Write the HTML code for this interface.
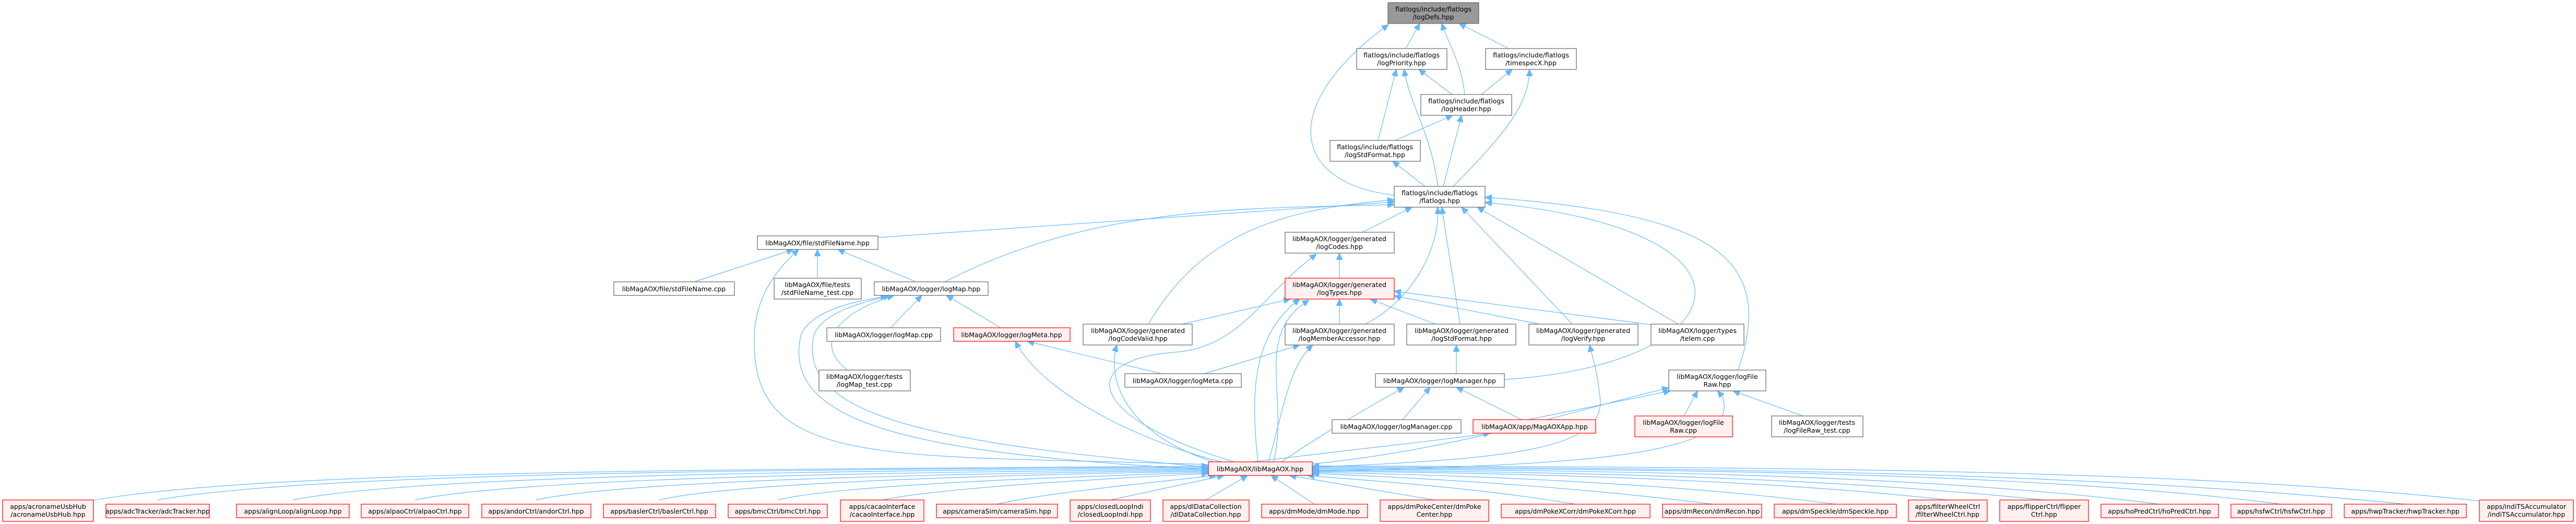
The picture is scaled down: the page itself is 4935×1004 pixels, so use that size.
<!DOCTYPE html>
<html><head><meta charset="utf-8">
<style>
html,body{margin:0;padding:0;background:#fff;}
svg{display:block;}
text{font-family:"DejaVu Sans","Liberation Sans",sans-serif;font-size:12.5px;fill:#000;text-anchor:middle;}
.n{fill:#fff;stroke:#666;stroke-width:1.2;}
.r{fill:#fff0f0;stroke:#f00;stroke-width:1.2;}
.g{fill:#999;stroke:#666;stroke-width:1.2;}
path{fill:none;stroke:#63b8ff;stroke-width:1.2;}
</style></head><body>
<svg width="4935" height="1004" viewBox="0 0 4935 1004" xmlns="http://www.w3.org/2000/svg">
<defs>
<marker id="a" markerUnits="userSpaceOnUse" markerWidth="14" markerHeight="12" refX="13" refY="6" orient="auto">
<path d="M0,0 L13,6 L0,12 Z" style="fill:#63b8ff;stroke:#63b8ff;stroke-width:1"/>
</marker>
</defs>
<g marker-end="url(#a)">
<!-- top cluster -->
<path d="M2693,93 L2720,45"/>
<path d="M2890,93 L2795,45"/>
<path d="M2806,181 C2800,120 2775,85 2762,45"/>
<path d="M2671,374 C2470,350 2450,200 2660,47"/>
<path d="M2782,181 L2718,133"/>
<path d="M2640,269 L2675,133"/>
<path d="M2755,357 C2740,250 2700,200 2690,133"/>
<path d="M2838,181 L2897,133"/>
<path d="M2784,357 C2880,260 2930,200 2930,133"/>
<path d="M2673,269 L2783,221"/>
<path d="M2765,357 L2800,221"/>
<path d="M2730,357 L2668,309"/>
<!-- into flatlogs -->
<path d="M1682,455 L2671,387"/>
<path d="M1810,540 C2100,390 2400,400 2671,392"/>
<path d="M2610,445 L2705,397"/>
<path d="M2200,621 C2300,450 2450,400 2671,383"/>
<path d="M2615,621 C2700,580 2760,480 2754,397"/>
<path d="M2797,621 L2762,397"/>
<path d="M3012,621 L2800,397"/>
<path d="M3215,621 L2830,397"/>
<path d="M3330,709 C3400,500 3300,410 2845,378"/>
<path d="M2882,727 C3330,700 3420,440 2845,388"/>
<!-- stdFileName.hpp -->
<path d="M1330,540 L1520,478"/>
<path d="M1566,533 L1566,478"/>
<path d="M1755,540 L1605,478"/>
<path d="M2315,890 C1700,870 1440,900 1445,650 C1445,560 1500,505 1530,478"/>
<!-- logMap.hpp -->
<path d="M1706,628 L1766,566"/>
<path d="M1917,628 L1813,566"/>
<path d="M1623,709 C1560,660 1600,600 1713,566"/>
<path d="M2315,895 C1800,850 1520,800 1560,640 C1580,595 1660,578 1706,566"/>
<path d="M2315,900 C1780,870 1490,820 1535,640 C1560,590 1650,575 1700,568"/>
<!-- logCodes / logTypes -->
<path d="M2566,533 L2566,485"/>
<path d="M2365,885 C2080,800 2060,690 2250,675 C2380,665 2420,560 2522,487"/>
<path d="M2265,621 L2472,573"/>
<path d="M2410,885 C2395,750 2400,640 2490,573"/>
<path d="M2440,885 C2470,760 2400,640 2508,575"/>
<path d="M2566,621 L2566,573"/>
<path d="M2750,621 L2625,573"/>
<path d="M2950,621 L2671,567"/>
<path d="M3170,623 L2671,558"/>
<!-- logMeta / logCodeValid / logMemberAccessor -->
<path d="M2225,716 L1968,654"/>
<path d="M2340,885 C2200,850 2000,760 1945,654"/>
<path d="M2325,885 C2150,830 2120,720 2140,661"/>
<path d="M2307,716 L2490,661"/>
<path d="M2430,885 C2460,780 2470,700 2515,661"/>
<path d="M2790,716 L2790,661"/>
<path d="M2514,895 C2900,880 3080,860 3065,760 C3060,710 3050,680 3045,661"/>
<!-- logManager / logFileRaw -->
<path d="M2687,804 L2740,742"/>
<path d="M2915,804 L2790,742"/>
<path d="M2455,885 C2550,820 2640,770 2690,742"/>
<path d="M3226,797 L3252,749"/>
<path d="M3454,797 L3320,749"/>
<path d="M2927,804 L3200,749"/>
<path d="M2514,889 C2800,860 3000,790 3197,743"/>
<path d="M2514,903 C3000,890 3340,880 3300,760 L3290,749"/>
<path d="M2400,885 C2600,860 2750,845 2855,830"/>
<!-- bottom row to MagAOX.hpp -->
<path d="M170,960 C500,900 1400,900 2315,893"/>
<path d="M302,958 C600,905 1500,900 2315,895"/>
<path d="M561,958 C800,910 1600,902 2315,897"/>
<path d="M795,958 C1000,915 1700,905 2315,899"/>
<path d="M1027,958 C1200,920 1800,908 2315,901"/>
<path d="M1263,958 C1400,925 1900,910 2315,903"/>
<path d="M1490,958 C1600,930 2000,915 2315,905"/>
<path d="M1690,958 C1800,935 2100,918 2315,907"/>
<path d="M1910,966 C2000,945 2200,925 2330,911"/>
<path d="M2127,958 L2345,911"/>
<path d="M2310,958 L2390,911"/>
<path d="M2518,966 L2435,911"/>
<path d="M2748,958 L2470,911"/>
<path d="M3018,966 C2800,930 2600,920 2505,911"/>
<path d="M3280,966 C3000,930 2700,915 2514,907"/>
<path d="M3516,966 C3200,925 2800,910 2514,905"/>
<path d="M3731,958 C3400,920 2900,905 2514,903"/>
<path d="M3916,958 C3500,915 3000,903 2514,901"/>
<path d="M4137,966 C3700,910 3100,900 2514,899"/>
<path d="M4370,966 C3900,905 3200,898 2514,897"/>
<path d="M4608,966 C4000,905 3300,896 2514,895"/>
<path d="M4750,960 C4200,900 3400,894 2514,893"/>
</g>

<!-- nodes -->
<rect class="g" x="2659" y="5" width="174" height="40"/><text x="2746" y="22">flatlogs/include/flatlogs</text><text x="2746" y="37">/logDefs.hpp</text>
<rect class="n" x="2599" y="93" width="173" height="40"/><text x="2685" y="110">flatlogs/include/flatlogs</text><text x="2685" y="125">/logPriority.hpp</text>
<rect class="n" x="2846" y="93" width="174" height="40"/><text x="2933" y="110">flatlogs/include/flatlogs</text><text x="2933" y="125">/timespecX.hpp</text>
<rect class="n" x="2722" y="181" width="174" height="40"/><text x="2809" y="198">flatlogs/include/flatlogs</text><text x="2809" y="213">/logHeader.hpp</text>
<rect class="n" x="2548" y="269" width="173" height="40"/><text x="2634" y="286">flatlogs/include/flatlogs</text><text x="2634" y="301">/logStdFormat.hpp</text>
<rect class="n" x="2671" y="357" width="174" height="40"/><text x="2758" y="374">flatlogs/include/flatlogs</text><text x="2758" y="389">/flatlogs.hpp</text>

<rect class="n" x="1451" y="452" width="231" height="26"/><text x="1566" y="470">libMagAOX/file/stdFileName.hpp</text>
<rect class="n" x="2462" y="445" width="209" height="40"/><text x="2566" y="462">libMagAOX/logger/generated</text><text x="2566" y="477">/logCodes.hpp</text>

<rect class="n" x="1176" y="540" width="231" height="26"/><text x="1291" y="558">libMagAOX/file/stdFileName.cpp</text>
<rect class="n" x="1483" y="533" width="167" height="40"/><text x="1566" y="550">libMagAOX/file/tests</text><text x="1566" y="565">/stdFileName_test.cpp</text>
<rect class="n" x="1675" y="540" width="218" height="26"/><text x="1784" y="558">libMagAOX/logger/logMap.hpp</text>
<rect class="r" x="2462" y="533" width="209" height="40"/><text x="2566" y="550">libMagAOX/logger/generated</text><text x="2566" y="565">/logTypes.hpp</text>

<rect class="n" x="1584" y="628" width="218" height="26"/><text x="1693" y="646">libMagAOX/logger/logMap.cpp</text>
<rect class="r" x="1827" y="628" width="223" height="26"/><text x="1938" y="646">libMagAOX/logger/logMeta.hpp</text>
<rect class="n" x="2075" y="621" width="209" height="40"/><text x="2180" y="638">libMagAOX/logger/generated</text><text x="2180" y="653">/logCodeValid.hpp</text>
<rect class="n" x="2462" y="621" width="209" height="40"/><text x="2566" y="638">libMagAOX/logger/generated</text><text x="2566" y="653">/logMemberAccessor.hpp</text>
<rect class="n" x="2695" y="621" width="209" height="40"/><text x="2800" y="638">libMagAOX/logger/generated</text><text x="2800" y="653">/logStdFormat.hpp</text>
<rect class="n" x="2929" y="621" width="209" height="40"/><text x="3033" y="638">libMagAOX/logger/generated</text><text x="3033" y="653">/logVerify.hpp</text>
<rect class="n" x="3163" y="621" width="178" height="40"/><text x="3252" y="638">libMagAOX/logger/types</text><text x="3252" y="653">/telem.cpp</text>

<rect class="n" x="1569" y="709" width="175" height="40"/><text x="1656" y="726">libMagAOX/logger/tests</text><text x="1656" y="741">/logMap_test.cpp</text>
<rect class="n" x="2155" y="716" width="223" height="26"/><text x="2266" y="734">libMagAOX/logger/logMeta.cpp</text>
<rect class="n" x="2635" y="716" width="247" height="26"/><text x="2758" y="734">libMagAOX/logger/logManager.hpp</text>
<rect class="n" x="3197" y="709" width="186" height="40"/><text x="3290" y="726">libMagAOX/logger/logFile</text><text x="3290" y="741">Raw.hpp</text>

<rect class="n" x="2552" y="804" width="247" height="26"/><text x="2675" y="822">libMagAOX/logger/logManager.cpp</text>
<rect class="r" x="2822" y="804" width="235" height="26"/><text x="2940" y="822">libMagAOX/app/MagAOXApp.hpp</text>
<rect class="r" x="3132" y="797" width="187" height="40"/><text x="3225" y="814">libMagAOX/logger/logFile</text><text x="3225" y="829">Raw.cpp</text>
<rect class="n" x="3394" y="797" width="175" height="40"/><text x="3481" y="814">libMagAOX/logger/tests</text><text x="3481" y="829">/logFileRaw_test.cpp</text>

<rect class="r" x="2315" y="885" width="199" height="26"/><text x="2414" y="903">libMagAOX/libMagAOX.hpp</text>

<!-- bottom row -->
<rect class="r" x="5" y="958" width="174" height="41"/><text x="92" y="975">apps/acronameUsbHub</text><text x="92" y="990">/acronameUsbHub.hpp</text>
<rect class="r" x="203" y="966" width="198" height="26"/><text x="302" y="984">apps/adcTracker/adcTracker.hpp</text>
<rect class="r" x="453" y="966" width="216" height="26"/><text x="561" y="984">apps/alignLoop/alignLoop.hpp</text>
<rect class="r" x="692" y="966" width="206" height="26"/><text x="795" y="984">apps/alpaoCtrl/alpaoCtrl.hpp</text>
<rect class="r" x="923" y="966" width="209" height="26"/><text x="1027" y="984">apps/andorCtrl/andorCtrl.hpp</text>
<rect class="r" x="1156" y="966" width="215" height="26"/><text x="1263" y="984">apps/baslerCtrl/baslerCtrl.hpp</text>
<rect class="r" x="1395" y="966" width="190" height="26"/><text x="1490" y="984">apps/bmcCtrl/bmcCtrl.hpp</text>
<rect class="r" x="1610" y="958" width="160" height="41"/><text x="1690" y="975">apps/cacaoInterface</text><text x="1690" y="990">/cacaoInterface.hpp</text>
<rect class="r" x="1794" y="966" width="232" height="26"/><text x="1910" y="984">apps/cameraSim/cameraSim.hpp</text>
<rect class="r" x="2050" y="958" width="154" height="41"/><text x="2127" y="975">apps/closedLoopIndi</text><text x="2127" y="990">/closedLoopIndi.hpp</text>
<rect class="r" x="2228" y="958" width="165" height="41"/><text x="2310" y="975">apps/dlDataCollection</text><text x="2310" y="990">/dlDataCollection.hpp</text>
<rect class="r" x="2417" y="966" width="203" height="26"/><text x="2518" y="984">apps/dmMode/dmMode.hpp</text>
<rect class="r" x="2644" y="958" width="208" height="41"/><text x="2748" y="975">apps/dmPokeCenter/dmPoke</text><text x="2748" y="990">Center.hpp</text>
<rect class="r" x="2876" y="966" width="285" height="26"/><text x="3018" y="984">apps/dmPokeXCorr/dmPokeXCorr.hpp</text>
<rect class="r" x="3185" y="966" width="190" height="26"/><text x="3280" y="984">apps/dmRecon/dmRecon.hpp</text>
<rect class="r" x="3399" y="966" width="234" height="26"/><text x="3516" y="984">apps/dmSpeckle/dmSpeckle.hpp</text>
<rect class="r" x="3656" y="958" width="151" height="41"/><text x="3731" y="975">apps/filterWheelCtrl</text><text x="3731" y="990">/filterWheelCtrl.hpp</text>
<rect class="r" x="3831" y="958" width="170" height="41"/><text x="3916" y="975">apps/flipperCtrl/flipper</text><text x="3916" y="990">Ctrl.hpp</text>
<rect class="r" x="4025" y="966" width="225" height="26"/><text x="4137" y="984">apps/hoPredCtrl/hoPredCtrl.hpp</text>
<rect class="r" x="4274" y="966" width="193" height="26"/><text x="4370" y="984">apps/hsfwCtrl/hsfwCtrl.hpp</text>
<rect class="r" x="4491" y="966" width="234" height="26"/><text x="4608" y="984">apps/hwpTracker/hwpTracker.hpp</text>
<rect class="r" x="4750" y="958" width="180" height="41"/><text x="4840" y="975">apps/indiTSAccumulator</text><text x="4840" y="990">/indiTSAccumulator.hpp</text>
</svg>
</body></html>
